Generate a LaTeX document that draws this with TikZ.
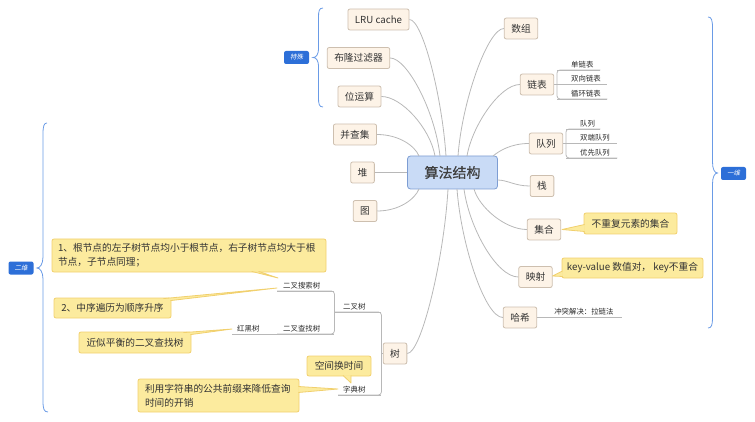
\documentclass[tikz,border=0pt]{standalone}
\usepackage{fontspec}
\setmainfont{Noto Sans CJK SC}
\newfontfamily\labfont[FakeSlant=0.2]{Noto Sans CJK SC}
\newfontfamily\rootfont[FakeBold=0.6]{Noto Sans CJK SC}
\usetikzlibrary{calc}
\definecolor{topicfill}{HTML}{FDF3E7}
\definecolor{topicdraw}{HTML}{CDBFAF}
\definecolor{rootfill}{HTML}{C9DBF6}
\definecolor{rootdraw}{HTML}{7D9DD3}
\definecolor{callfill}{HTML}{FCEB9E}
\definecolor{calldraw}{HTML}{F1D06E}
\definecolor{linec}{HTML}{B8B8B8}
\definecolor{bluec}{HTML}{2D6FD8}
\definecolor{bracec}{HTML}{6A9BE6}
\definecolor{txt}{HTML}{333333}
\tikzset{
 topic/.style={draw=topicdraw, fill=topicfill, rounded corners=2pt, line width=0.8pt, font=\fontsize{9.7}{11}\selectfont, text=txt, minimum height=21pt, inner xsep=7pt, inner ysep=0pt},
 rootbox/.style={draw=rootdraw, fill=rootfill, rounded corners=3pt, line width=0.8pt, font=\rootfont\fontsize{14}{16}\selectfont, text=black!75, minimum width=90pt, minimum height=33pt, inner sep=0pt},
 callout/.style={draw=calldraw, fill=callfill, rounded corners=2pt, line width=0.8pt, font=\fontsize{9.7}{14}\selectfont, text=txt, inner sep=0pt},
 sub/.style={font=\fontsize{7.4}{9}\selectfont, text=black!85, inner xsep=0pt, inner ysep=2pt, align=left, anchor=south west},
 conn/.style={draw=linec, line width=0.8pt},
 tag/.style={fill=bluec, rounded corners=2pt, text=white, font=\labfont\fontsize{6.5}{7}\selectfont, minimum width=25pt, minimum height=13pt, inner sep=0pt},
 bracestyle/.style={draw=bracec, line width=0.8pt},
}
\newcommand\mywedge[3]{%
  \fill[callfill] (#1) -- (#2) -- (#3) -- cycle;
  \draw[calldraw, line width=0.8pt, line join=round] (#2) -- (#1) -- (#3);}
\begin{document}
\begin{tikzpicture}[x=1pt,y=-1pt]
\useasboundingbox (0,0) rectangle (755,422);

% root
\node[rootbox] (root) at (452.5,172.5) {算法结构};

% topics
\node[topic] (lru) at (378.5,19.5) {LRU cache};
\node[topic] (bloom) at (358.5,58) {布隆过滤器};
\node[topic] (bit) at (359.5,96.5) {位运算};
\node[topic] (uf) at (355,134.5) {并查集};
\node[topic] (heap) at (362.5,172.5) {堆};
\node[topic] (graph) at (365,211) {图};
\node[topic] (tree) at (395,353.5) {树};
\node[topic] (array) at (521,28.5) {数组};
\node[topic] (list) at (537,84.5) {链表};
\node[topic] (queue) at (546,143.5) {队列};
\node[topic] (stack) at (542,186) {栈};
\node[topic] (set) at (544,229.5) {集合};
\node[topic] (map) at (535.5,277) {映射};
\node[topic] (hash) at (520,317.5) {哈希};

% attach points on root
\coordinate (rLRU) at (446,156);
\coordinate (rBloom) at (440,156);
\coordinate (rBit) at (435,156);
\coordinate (rUF) at (419,156);
\coordinate (rGraph) at (419,189);
\coordinate (rTree) at (448,189);
\coordinate (rArray) at (458,156);
\coordinate (rList) at (467,156);
\coordinate (rQueue) at (493,156);
\coordinate (rStack) at (497.5,180);
\coordinate (rSet) at (474,189);
\coordinate (rMap) at (464,189);
\coordinate (rHash) at (457,189);

% connectors
\draw[conn] (lru.east) .. controls +(13,0) and +(-4,-60) .. (rLRU);
\draw[conn] (bloom.east) .. controls +(17,0) and +(-5,-45) .. (rBloom);
\draw[conn] (bit.east) .. controls +(20,0) and +(-5,-28) .. (rBit);
\draw[conn] (uf.east) .. controls +(22,0) and +(-4,-10) .. (rUF);
\draw[conn] (heap.east) -- (root.west);
\draw[conn] (graph.east) .. controls +(22,0) and +(-4,10) .. (rGraph);
\draw[conn] (tree.east) .. controls +(14,0) and +(-4,70) .. (rTree);
\draw[conn] (array.west) .. controls +(-16,0) and +(4,-55) .. (rArray);
\draw[conn] (list.west) .. controls +(-20,0) and +(5,-30) .. (rList);
\draw[conn] (queue.west) .. controls +(-18,0) and +(6,-5) .. (rQueue);
\draw[conn] (stack.west) .. controls +(-15,0) and +(10,0) .. (rStack);
\draw[conn] (set.west) .. controls +(-22,0) and +(5,18) .. (rSet);
\draw[conn] (map.west) .. controls +(-22,0) and +(5,38) .. (rMap);
\draw[conn] (hash.west) .. controls +(-18,0) and +(4,55) .. (rHash);

% sub topics
\node[sub, text width=43pt] (s1) at (557,70) {\hspace*{14pt}单链表};
\node[sub, text width=50pt] (s2) at (557,84.5) {\hspace*{14pt}双向链表};
\node[sub, text width=50pt] (s3) at (557,99) {\hspace*{14pt}循环链表};
\node[sub, text width=34pt] (q1) at (566,129) {\hspace*{14pt}队列};
\node[sub, text width=51pt] (q2) at (566,143.5) {\hspace*{14pt}双端队列};
\node[sub, text width=51pt] (q3) at (566,158) {\hspace*{14pt}优先队列};
\node[sub, text width=84pt] (hx) at (hash.east) {\hspace*{17pt}冲突解决：拉链法};
\node[sub, text width=47pt] (bt) at (334,312) {\hspace*{9pt}二叉树};
\node[sub, text width=57pt] (bst) at (277,291) {\hspace*{6pt}二叉搜索树};
\node[sub, text width=57pt] (bsearch) at (277,334) {\hspace*{6pt}二叉查找树};
\node[sub, text width=45pt] (rb) at (232,334) {\hspace*{5pt}红黑树};
\node[sub, text width=43pt] (trie) at (338,395) {\hspace*{5pt}字典树};

\foreach \n in {s1,s2,s3,q1,q2,q3,hx,bt,bst,bsearch,rb,trie}
  \draw[conn] (\n.south west) -- (\n.south east);
\draw[conn, rounded corners=3pt] (s1.south east) -- (s1.south west) -- (s3.south west) -- (s3.south east);
\draw[conn] (list.east) -- (s2.south west);
\draw[conn, rounded corners=3pt] (q1.south east) -- (q1.south west) -- (q3.south west) -- (q3.south east);
\draw[conn] (queue.east) -- (q2.south west);
\draw[conn, rounded corners=3pt] (bst.south west) -- (bst.south east) -- (bsearch.south east) -- (bsearch.south west);
\draw[conn, rounded corners=3pt] (bt.south west) -- (bt.south east) -- (trie.south east) -- (trie.south west);
\draw[conn] (tree.west) -- (tree.west -| bt.south east);

% callouts
\node[callout, minimum width=274pt, minimum height=33pt, text width=262pt, align=left] (cb1) at (189,255.5) {1、根节点的左子树节点均小于根节点，右子树节点均大于根\\节点，子节点同理；};
\node[callout, minimum width=117pt, minimum height=20pt] (cb2) at (112.5,308) {2、中序遍历为顺序升序};
\node[callout, minimum width=112pt, minimum height=21pt] (cb3) at (135,342.5) {近似平衡的二叉查找树};
\node[callout, minimum width=64pt, minimum height=20pt] (cb4) at (339,366) {空间换时间};
\node[callout, minimum width=161pt, minimum height=33pt, text width=147pt, align=left] (cb5) at (218.5,395.5) {利用字符串的公共前缀来降低查询\\时间的开销};
\node[callout, minimum width=93pt, minimum height=21pt] (cs) at (630.5,223.5) {不重复元素的集合};
\node[callout, minimum width=141pt, minimum height=20pt] (cm) at (632.5,268) {key-value 数值对， key不重合};

\coordinate (t1) at (278,278);
\coordinate (t2) at (277,288);
\coordinate (t3) at (232,329);
\coordinate (t4) at (351,383);
\coordinate (t5) at (338,389);
\coordinate (t6) at (562,229.5);
\coordinate (t7) at (552.5,276);
\mywedge{t1}{$(cb1.south west)+(200,-1)$}{$(cb1.south west)+(207,-1)$}
\mywedge{t2}{$(cb2.north east)+(-8,1)$}{$(cb2.north east)+(-1,3)$}
\mywedge{t3}{$(cb3.north east)+(-8,1)$}{$(cb3.north east)+(-1,3)$}
\mywedge{t4}{$(cb4.south)+(4,-1)$}{$(cb4.south)+(12,-1)$}
\mywedge{t5}{$(cb5.east)+(-1,-9)$}{$(cb5.east)+(-1,-3)$}
\mywedge{t6}{$(cs.west)+(1,1)$}{$(cs.west)+(1,8)$}
\mywedge{t7}{$(cm.west)+(1,3)$}{$(cm.west)+(1,8.5)$}

% braces
\draw[bracestyle] (323,8) .. controls (319,8) and (318.5,11) .. (318.5,18) -- (318.5,48) .. controls (318.5,55) and (316,57.5) .. (313,57.5) .. controls (316,57.5) and (318.5,60) .. (318.5,67) -- (318.5,97) .. controls (318.5,104) and (319,107) .. (323,107);
\draw[bracestyle] (708,17) .. controls (711.5,17) and (712.5,20) .. (712.5,28) -- (712.5,162) .. controls (712.5,169) and (714.5,173) .. (717.5,173) .. controls (714.5,173) and (712.5,177) .. (712.5,184) -- (712.5,318) .. controls (712.5,325) and (711.5,328) .. (708,328);
\draw[bracestyle] (47,123) .. controls (44,123) and (43,126) .. (43,134) -- (43,257) .. controls (43,264) and (40,268) .. (37,268) .. controls (40,268) and (43,272) .. (43,279) -- (43,401) .. controls (43,409) and (44,412) .. (48,412);

% tags
\node[tag] (tspecial) at (296.5,57.5) {特殊};
\node[tag] (tone) at (733.5,173.5) {一维};
\node[tag] (ttwo) at (21,268) {二维};
\end{tikzpicture}
\end{document}
